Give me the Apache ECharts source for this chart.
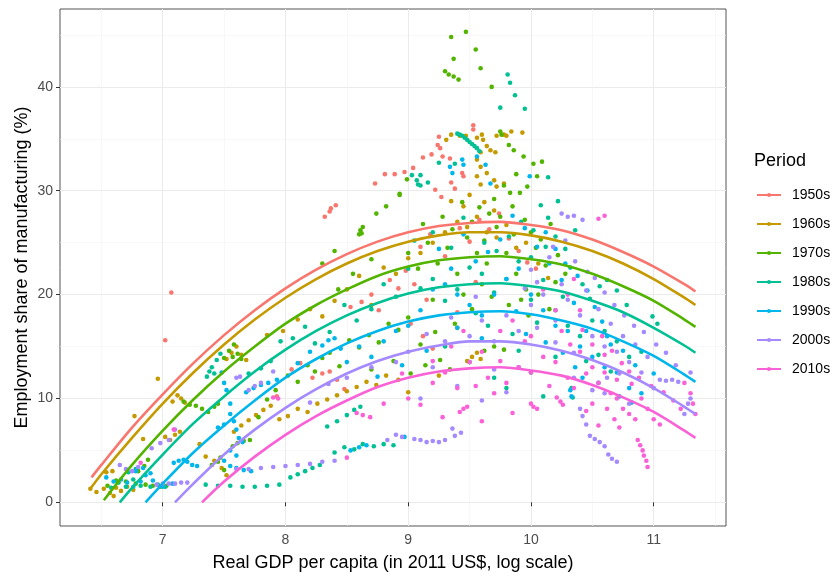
<!DOCTYPE html>
<html>
<head>
<meta charset="utf-8">
<title>Manufacturing employment share vs GDP per capita</title>
<script src="https://cdn.jsdelivr.net/npm/echarts@6/dist/echarts.min.js"></script>
<style>
  html, body { margin: 0; padding: 0; background: #fff; }
  #chart { width: 835px; height: 577px; }
</style>
</head>
<body>
<div id="chart"></div>
<script>
const periods = ['1950s', '1960s', '1970s', '1980s', '1990s', '2000s', '2010s'];
const colors = ['#F8766D', '#C49A00', '#53B400', '#00C094', '#00B6EB', '#A58AFF', '#FB61D7'];

const xTicks = [7, 8, 9, 10, 11];
const yTicks = [0, 10, 20, 30, 40];
const xMinor = [6.5, 7.5, 8.5, 9.5, 10.5, 11.5];
const yMinor = [5, 15, 25, 35, 45];

// observations: [log GDP per capita, manufacturing share %]
const pts1950 = [
  [7.02,15.6],[7.07,20.2],
  [7.93,10.2],[8.05,12.8],[8.12,13.4],[8.22,12.0],[8.30,12.4],[8.36,12.6],[8.42,11.8],[8.48,10.9],
  [8.32,27.5],[8.36,28.0],[8.37,28.3],[8.41,28.6],
  [8.53,18.8],[8.62,19.3],[8.70,20.0],[8.76,18.5],[8.85,21.4],[8.92,20.6],[8.98,22.3],[9.05,21.0],
  [8.73,30.7],[8.81,31.6],[8.89,31.6],[8.97,31.8],[9.04,32.2],[9.12,33.2],[9.19,33.5],[9.25,35.2],
  [9.24,34.4],[9.26,34.1],[9.28,33.3],[9.34,33.1],[9.44,31.7],[9.45,31.4],[9.53,36.3],[9.53,35.9],
  [9.27,29.4],[9.22,30.1],[9.35,30.8],[9.38,30.2],
  [9.10,24.6],[9.18,25.8],[9.30,23.7],[9.42,26.4],[9.50,25.1],[9.58,27.2],[9.66,26.3],[9.74,27.8],
  [9.82,25.4],[9.90,24.2],[9.97,23.1],[10.04,22.5],
  [9.02,17.2],[9.12,16.0],[9.20,14.8],[9.15,19.5],[9.40,18.3],[9.55,21.2]
];
const pts1960 = [
  [6.41,1.3],[6.46,1.0],[6.52,1.3],[6.57,0.9],[6.62,1.4],[6.66,1.1],[6.71,1.5],[6.76,1.2],[6.60,0.6],
  [6.54,2.9],[6.59,3.0],[6.77,8.3],[6.84,6.1],[6.96,11.9],
  [7.02,6.3],[7.06,6.0],[7.10,6.5],[7.14,6.8],[7.08,9.7],[7.12,10.3],[7.15,10.0],[7.18,9.6],
  [7.30,5.6],[7.35,4.4],[7.42,4.0],[7.48,3.3],[7.52,2.6],
  [7.52,13.8],[7.56,14.4],[7.60,15.0],[7.64,14.2],[7.68,13.7],
  [7.58,6.8],[7.64,7.4],[7.70,7.9],[7.76,8.4],[7.82,8.9],[7.88,9.3],
  [7.95,8.0],[8.02,8.3],[8.10,9.0],[8.18,8.7],[8.26,9.5],[8.34,9.9],[8.42,10.3],[8.50,10.7],
  [8.58,11.1],[8.66,11.6],[8.74,11.3],[8.82,12.2],[8.92,11.8],[9.00,10.6],
  [7.85,16.1],[7.98,16.5],[8.10,17.6],[8.20,18.6],[8.30,17.9],[8.40,19.4],[8.50,20.5],[8.60,21.8],
  [8.70,19.0],[8.80,22.6],[8.90,22.0],[9.00,23.5],[9.10,24.0],[9.20,25.0],[9.30,26.0],[9.40,27.0],
  [9.48,26.5],[9.56,27.5],[9.64,26.0],[9.72,25.5],[9.80,26.7],[9.88,24.5],[9.96,25.0],[10.06,23.0],[10.14,21.6],
  [9.35,29.0],[9.45,28.5],[9.50,29.6],[9.62,28.9],[9.70,28.1],
  [9.31,34.9],[9.35,35.4],[9.42,35.3],[9.47,35.3],[9.56,35.1],[9.60,35.4],[9.61,34.9],[9.64,34.3],
  [9.59,33.7],[9.67,33.9],[9.71,33.7],[9.72,35.3],[9.78,35.4],[9.80,35.3],[9.84,35.7],[9.93,35.6],
  [9.56,33.0],[9.59,32.3],[9.64,31.7],[9.70,31.0],[9.72,30.4],[9.78,30.7],[9.56,31.4],[9.59,30.6],
  [9.48,13.6],[9.52,14.0],[9.56,14.4],[9.59,13.8],[9.25,12.2],[9.40,16.8]
];
const pts1970 = [
  [6.55,1.6],[6.62,2.1],[6.70,2.0],[6.78,1.8],[6.86,1.7],[6.92,1.6],[6.98,1.5],[7.03,1.6],[6.85,3.5],[6.88,4.1],[6.80,3.0],
  [7.17,9.7],[7.22,9.4],[7.27,9.3],[7.32,9.0],[7.37,8.7],[7.42,9.2],[7.45,9.5],
  [7.50,13.9],[7.54,14.6],[7.58,15.2],[7.61,14.3],[7.64,13.8],[7.57,14.0],
  [7.57,5.4],[7.61,5.7],[7.66,5.9],[7.71,6.0],[7.40,3.6],[7.45,3.9],[7.50,3.1],[7.47,4.3],
  [7.78,8.2],[7.85,9.9],[7.92,10.8],
  [8.02,12.2],[8.10,11.6],[8.18,13.2],[8.24,12.6],[8.30,13.9],[8.36,14.4],[8.44,13.1],[8.52,15.6],
  [8.60,14.9],[8.68,16.1],[8.76,15.4],[8.84,17.2],[8.92,16.6],[9.00,17.8],[8.70,12.8],[8.88,13.6],
  [9.02,12.4],[9.14,13.2],[9.26,13.7],[9.34,12.8],[9.62,14.6],[9.70,15.0],[9.78,14.7],
  [8.43,20.5],[8.62,25.9],[8.74,27.8],[8.82,28.5],[8.93,29.6],[8.99,31.1],[8.61,26.2],[8.60,25.8],
  [8.63,26.5],[8.30,23.0],[8.40,24.2],[8.55,22.0],[8.70,23.4],
  [9.35,44.8],[9.47,45.3],[9.37,42.7],[9.55,43.6],[9.30,41.5],[9.33,41.2],[9.37,41.0],[9.41,40.7],[9.59,41.8],[9.68,40.0],
  [9.75,35.7],[9.76,35.4],[9.82,34.4],[9.86,33.9],[9.94,33.3],[10.02,32.6],[10.09,32.8],[10.05,31.4],
  [9.91,29.8],[9.83,29.8],[9.97,30.4],[8.93,29.7],
  [9.00,24.0],[9.08,22.5],[9.16,25.0],[9.24,23.0],[9.32,24.5],[9.40,22.0],[9.48,25.5],[9.56,24.0],
  [9.64,23.0],[9.72,26.5],[9.80,24.0],[9.88,22.0],[9.96,20.5],[10.04,24.5],[10.12,22.8],[10.20,21.2],
  [9.85,28.5],[9.75,27.5],[9.92,19.5],[9.82,19.0],[9.98,18.0],[10.06,20.0],[10.15,18.6],[9.60,21.0],
  [9.45,20.0],[9.20,19.5],
  [9.52,27.0],[9.58,28.4],[9.66,27.8],[9.70,29.2],[9.78,30.5],[9.88,31.6],[9.95,27.2],[10.00,26.0],
  [10.08,25.3],[10.16,26.8],[9.62,25.2],[9.36,26.3],[9.28,27.5],[9.12,26.8],[9.44,28.9],[9.86,25.8],
  [10.22,23.8],[10.28,22.0],[9.68,19.8],[9.52,18.6],[9.38,17.2],[9.22,16.4],[9.10,15.2]
];
const pts1980 = [
  [6.58,1.4],[6.64,1.9],[6.70,1.5],[6.76,2.2],[6.82,1.6],[6.90,1.5],[6.96,1.7],[7.02,1.5],[6.72,2.9],[6.78,3.2],
  [7.35,1.7],[7.45,1.6],[7.55,1.6],[7.65,1.5],[7.75,1.5],[7.85,1.6],[7.95,1.7],
  [8.04,2.4],[8.10,2.7],[8.16,3.0],[8.22,3.3],[8.28,3.6],[8.40,4.8],[8.48,5.3],[8.56,5.1],[8.63,5.6],
  [8.72,5.4],[8.80,5.6],[8.88,5.5],
  [8.34,7.3],[8.42,7.8],[8.50,8.4],[8.56,8.9],[8.61,9.2],
  [7.36,12.1],[7.38,12.6],[7.40,13.0],[7.42,12.4],[7.44,13.7],[7.47,14.3],
  [7.70,12.4],[7.80,12.9],[7.88,13.6],[7.96,15.5],[8.06,15.8],[8.16,16.9],[8.24,15.3],[8.36,16.4],
  [8.48,19.0],[8.58,17.5],[8.70,18.6],[8.80,21.0],[8.90,19.8],[9.00,22.5],[9.10,20.6],[9.20,21.5],
  [9.30,19.4],[9.40,20.5],[9.50,22.6],[9.60,22.0],[9.70,20.2],[9.80,21.5],[9.90,23.2],[10.00,19.5],
  [10.10,21.4],[10.20,18.5],[10.30,17.0],[10.40,16.0],[10.50,17.5],[10.60,16.5],[10.70,15.5],[10.80,14.0],
  [10.90,14.5],[10.99,17.9],[11.03,17.2],[10.62,21.4],[10.70,20.4],[10.78,19.0],
  [10.20,25.6],[10.28,24.4],[10.36,26.2],[10.14,27.4],[10.08,28.6],[10.22,29.0],
  [9.40,35.5],[9.42,35.4],[9.44,35.3],[9.46,35.1],[9.48,34.9],[9.50,34.7],[9.52,34.5],[9.54,34.3],[9.56,34.1],[9.58,33.8],
  [9.81,41.2],[9.83,40.4],[9.87,39.2],[9.75,38.0],[9.95,37.9],[10.14,31.3],
  [9.03,31.5],[9.10,31.5],[9.07,31.0],[9.10,30.5],[9.16,30.8],[9.25,32.7],[9.38,32.6],[9.08,30.6],
  [9.30,15.0],[9.50,13.5],[9.70,12.0],[9.80,11.0],[10.00,12.5],[10.20,14.0],[10.33,11.0],[10.34,10.1],
  [9.55,18.2],[9.65,17.0],[9.85,16.2],[10.05,17.3],
  [9.62,25.0],[9.72,24.2],[9.82,25.6],[9.92,27.0],[10.02,26.2],[10.12,24.6],[10.32,22.6],[10.42,21.0],
  [10.48,19.6],[10.56,20.8],[10.26,19.8],[10.00,23.6],[9.35,24.5],[9.45,27.4],[9.20,26.0],[9.05,25.2],
  [10.45,13.6],[10.55,14.2],[10.65,12.6],[10.10,10.2],[9.90,14.6]
];
const pts1990 = [
  [6.54,2.4],[6.60,2.0],[6.66,2.2],[6.71,1.9],[6.76,1.5],[6.82,2.0],[6.86,2.6],[6.92,2.1],[7.00,1.5],
  [7.08,1.8],[6.78,3.0],[6.84,3.3],[6.90,2.8],
  [7.09,3.8],[7.13,4.0],[7.17,4.1],[7.20,3.9],[7.24,3.6],[7.28,3.5],
  [7.48,12.5],[7.50,11.5],[7.52,10.8],[7.55,9.5],[7.55,8.5],[7.58,7.8],[7.50,7.5],[7.60,7.0],[7.62,6.2],
  [7.65,5.8],[7.55,5.0],[7.60,4.5],[7.50,4.0],[7.55,3.5],[7.60,3.3],[7.45,7.2],[7.66,3.1],[7.72,3.0],
  [7.68,10.6],[7.74,11.0],[7.80,11.3],[7.86,11.5],[7.93,11.8],
  [8.10,13.4],[8.20,14.5],[8.30,15.1],[8.35,15.6],[8.40,15.8],[8.45,14.8],[8.50,13.5],[8.60,15.0],
  [8.70,14.0],[8.80,15.5],[8.90,16.5],[9.00,17.0],[9.10,18.5],[9.20,20.5],[9.30,21.0],[9.35,22.5],
  [9.40,20.0],[9.50,19.0],[9.60,18.0],[9.70,20.0],[9.80,21.5],[9.90,22.5],[10.00,20.0],[10.10,18.5],
  [10.20,17.0],[10.30,16.5],[10.40,15.0],[10.50,14.0],[10.60,13.0],[10.70,12.5],[10.80,11.0],[10.90,10.5],
  [10.55,11.5],[10.45,16.5],[10.35,19.2],[10.25,21.4],[10.15,23.0],[10.05,24.6],[9.95,26.4],[9.85,27.6],
  [9.75,25.3],[9.65,24.1],[9.55,23.2],[9.45,25.8],[9.25,24.4],
  [9.34,32.3],[9.36,31.7],[9.44,33.0],[9.45,32.5],[9.56,33.3],[9.63,32.5],[9.67,30.7],[9.99,31.4],
  [8.53,5.0],[8.60,5.3],[8.66,5.5],[8.97,6.3],
  [10.32,10.8],[10.33,10.2],[10.65,15.2],[10.75,14.6],[10.85,13.2],[11.00,12.4],
  [10.12,26.0],[10.20,24.4],[10.28,23.0],[10.38,21.8],[10.46,20.4],[10.52,18.8],[10.58,17.4],[10.62,16.0],
  [10.36,13.0],[10.26,14.4],[10.12,15.4],[9.96,16.2],[9.88,18.4],[9.60,15.8],[9.40,16.8],[9.15,14.6],
  [8.95,13.2],[8.75,12.1],[10.72,10.2],[10.82,9.6],[10.42,12.0]
];
const pts2000 = [
  [6.65,3.6],[6.70,3.2],[6.75,3.0],[6.80,3.4],[6.91,5.2],[6.98,5.7],[7.05,6.0],[7.10,7.0],
  [6.95,1.7],[7.00,1.8],[7.05,1.8],[7.10,1.8],[7.15,1.9],[7.20,1.9],
  [7.60,3.2],[7.70,3.2],[7.80,3.3],[7.90,3.4],[8.00,3.5],[8.10,3.6],[8.20,3.7],[8.30,3.9],[8.40,4.0],
  [8.83,6.0],[8.90,6.5],[8.95,6.3],[9.05,6.1],[9.10,6.0],[9.15,5.8],[9.20,5.9],[9.25,5.8],[9.30,6.0],
  [9.38,6.4],[9.43,6.7],[9.36,7.1],
  [7.63,12.1],[7.70,10.8],[7.75,11.2],[7.80,11.5],[7.60,12.0],[7.90,12.6],
  [8.20,9.6],[8.35,11.4],[8.50,12.0],[8.70,13.0],[8.90,13.5],[9.00,14.5],[9.20,13.0],[9.30,15.5],
  [9.50,16.0],[9.60,17.5],[9.70,15.5],[9.80,18.0],[9.90,16.5],[10.00,19.0],[10.10,20.0],[10.20,17.5],
  [10.30,19.5],[10.40,18.0],[10.50,16.0],[10.60,15.0],[10.70,14.5],[10.80,13.5],[10.90,12.5],[11.00,11.0],
  [11.30,10.0],[11.25,8.5],[10.80,9.5],[10.60,10.5],[9.10,10.0],[9.40,11.2],[9.60,9.8],[9.80,10.6],
  [10.00,22.4],[10.15,23.6],[10.25,21.0],[10.45,20.4],[10.35,14.4],[10.55,18.6],[10.65,17.2],[10.75,16.0],
  [10.85,15.2],[10.95,14.0],[9.90,13.0],[9.70,12.8],
  [10.25,27.8],[10.30,27.5],[10.35,27.6],[10.42,27.2],
  [10.40,9.0],[10.42,8.3],[10.45,7.5],[10.48,6.4],[10.52,6.1],[10.56,5.8],[10.60,5.4],[10.63,4.6],
  [10.66,4.2],[10.70,3.9],
  [11.05,11.8],[11.10,11.7],[11.15,11.8],[11.20,11.6],[11.28,9.5],[11.30,12.5],
  [10.05,21.2],[10.18,24.6],[10.28,25.2],[10.36,23.2],[10.46,22.2],[10.52,21.6],[10.60,20.2],[10.68,19.0],
  [10.76,18.0],[10.84,17.0],[10.92,16.4],[11.02,15.2],[11.10,14.4],[11.18,13.2],[10.72,12.4],[10.62,12.0],
  [10.50,10.8],[10.35,12.0],[10.20,15.4],[10.05,16.8],[9.95,20.6],[9.55,19.8],[9.35,17.8],[9.15,16.2]
];
const pts2010 = [
  [7.09,7.0],[6.82,3.8],[7.90,10.1],[7.94,10.0],
  [8.50,4.3],[8.58,8.6],[8.63,8.4],[8.69,8.2],
  [8.80,9.5],[9.00,10.0],[9.20,11.5],[9.30,12.5],[9.40,11.0],[9.50,13.5],[9.60,14.5],[9.65,12.0],
  [9.70,10.5],[9.80,11.5],[9.90,13.0],[10.00,12.5],[10.10,14.0],[10.20,13.5],[10.30,12.0],[10.40,14.5],
  [10.50,13.0],[10.55,11.5],[10.60,12.5],[10.65,10.5],[10.70,10.0],[10.75,9.0],[10.80,8.5],[10.85,8.0],
  [10.50,9.5],[10.45,8.8],[10.35,11.0],[10.25,16.5],[10.20,18.5],[10.30,20.0],[10.35,21.5],[10.40,18.5],
  [10.10,20.5],[9.95,15.5],[10.00,16.0],[9.85,17.5],[9.75,16.5],[9.45,16.5],[9.35,15.0],
  [9.42,8.7],[9.45,9.0],[9.48,9.2],[10.00,9.5],[10.02,9.2],[10.05,9.0],[10.21,10.1],[10.24,9.7],[10.26,9.4],
  [10.87,6.0],[10.89,5.5],[10.91,5.0],[10.92,4.5],[10.94,4.0],[10.95,3.4],
  [11.25,11.5],[11.30,10.5],[11.32,9.5],[11.34,8.5],
  [10.90,10.0],[10.95,9.0],[11.00,8.0],[11.05,7.5],
  [10.55,27.3],[10.60,27.6],
  [10.45,12.4],[10.60,14.2],[10.70,11.8],[10.80,12.6],[9.55,11.2],[9.10,9.4],[9.85,8.6],[9.60,7.8],
  [10.32,15.2],[10.42,16.6],[10.50,15.2],[10.58,16.0],[10.66,14.6],[10.74,13.4],[10.82,11.4],[10.88,12.0],
  [10.98,11.2],[11.08,10.6],[11.16,9.8],[11.22,9.0],[10.62,9.0],[10.68,8.0],[10.72,7.2],[10.55,7.4],
  [10.15,11.2],[9.75,13.6],[9.20,13.6],[8.95,12.4],[9.28,8.2]
];

// fitted quadratic curves
const fit1950 = [[6.42,2.4],[6.5,3.6],[6.75,7.2],[7,10.4],[7.25,13.4],[7.5,16.1],[7.75,18.5],[8,20.6],[8.25,22.4],[8.5,23.9],[8.75,25.1],[9,26.0],[9.25,26.6],[9.5,26.9],[9.75,27.0],[10,26.7],[10.25,26.2],[10.5,25.3],[10.75,24.1],[11,22.7],[11.25,21.0],[11.34,20.3]];
const fit1960 = [[6.41,1.3],[6.5,2.7],[6.75,6.2],[7,9.5],[7.25,12.5],[7.5,15.2],[7.75,17.6],[8,19.7],[8.25,21.5],[8.5,23.0],[8.75,24.2],[9,25.1],[9.25,25.7],[9.5,26.0],[9.75,26.0],[10,25.7],[10.25,25.1],[10.5,24.2],[10.75,23.0],[11,21.5],[11.25,19.7],[11.34,19.0]];
const fit1970 = [[6.52,0.2],[6.75,3.6],[7,6.9],[7.25,9.9],[7.5,12.6],[7.75,15.0],[8,17.2],[8.25,19.0],[8.5,20.5],[8.75,21.8],[9,22.7],[9.25,23.3],[9.5,23.6],[9.75,23.7],[10,23.4],[10.25,22.9],[10.5,22.0],[10.75,20.8],[11,19.4],[11.25,17.6],[11.34,16.9]];
const fit1980 = [[6.65,0],[6.75,1.4],[7,4.6],[7.25,7.6],[7.5,10.2],[7.75,12.6],[8,14.7],[8.25,16.5],[8.5,18.0],[8.75,19.2],[9,20.1],[9.25,20.7],[9.5,21.0],[9.75,21.1],[10,20.8],[10.25,20.3],[10.5,19.4],[10.75,18.3],[11,16.8],[11.25,15.1],[11.34,14.4]];
const fit1990 = [[6.86,0],[7,1.8],[7.25,4.8],[7.5,7.4],[7.75,9.8],[8,12.0],[8.25,13.8],[8.5,15.3],[8.75,16.5],[9,17.4],[9.25,18.0],[9.5,18.3],[9.75,18.4],[10,18.1],[10.25,17.5],[10.5,16.7],[10.75,15.5],[11,14.1],[11.25,12.3],[11.34,11.6]];
const fit2000 = [[7.1,0],[7.25,1.8],[7.5,4.6],[7.75,7.0],[8,9.1],[8.25,10.9],[8.5,12.4],[8.75,13.6],[9,14.5],[9.25,15.1],[9.5,15.5],[9.75,15.5],[10,15.2],[10.25,14.6],[10.5,13.7],[10.75,12.5],[11,11.0],[11.25,9.2],[11.34,8.5]];
const fit2010 = [[7.32,0],[7.5,2.0],[7.75,4.4],[8,6.5],[8.25,8.3],[8.5,9.8],[8.75,11.1],[9,12.0],[9.25,12.6],[9.5,12.9],[9.75,13.0],[10,12.7],[10.25,12.2],[10.5,11.3],[10.75,10.1],[11,8.7],[11.25,6.9],[11.34,6.2]];

const points = [pts1950, pts1960, pts1970, pts1980, pts1990, pts2000, pts2010];
const fits = [fit1950, fit1960, fit1970, fit1980, fit1990, fit2000, fit2010];

const font = '"Liberation Sans", Arial, sans-serif';
const chart = echarts.init(document.getElementById('chart'), null, { renderer: 'canvas' });

const series = [];
periods.forEach((p, i) => {
  series.push({
    name: p,
    type: 'line',
    data: fits[i],
    smooth: 0.3,
    symbol: 'circle',
    symbolSize: 4,
    showSymbol: false,
    z: 3,
    lineStyle: { color: colors[i], width: 2.6 },
    itemStyle: { color: colors[i] },
    silent: true
  });
});
periods.forEach((p, i) => {
  series.push({
    name: p,
    type: 'scatter',
    data: points[i],
    symbolSize: 4.6,
    z: 2,
    itemStyle: { color: colors[i], opacity: 1 },
    silent: true
  });
});

const option = {
  animation: false,
  color: colors,
  textStyle: { fontFamily: font },
  title: {
    text: 'Period',
    left: 754,
    top: 152,
    padding: 0,
    textStyle: { fontSize: 18, fontWeight: 'normal', color: '#000', fontFamily: font }
  },
  legend: {
    data: periods,
    orient: 'vertical',
    left: 756,
    top: 188,
    padding: 0,
    itemWidth: 24,
    itemHeight: 5,
    itemGap: 15,
    textStyle: { fontSize: 14, lineHeight: 14, color: '#000', fontFamily: font, padding: [0, 0, 0, 6] }
  },
  grid: {
    left: 60, right: 109, top: 9, bottom: 51,
    show: true,
    borderColor: '#555',
    borderWidth: 1,
    backgroundColor: '#fff'
  },
  xAxis: [{
    type: 'value',
    min: 6.163,
    max: 11.589,
    name: 'Real GDP per capita (in 2011 US$, log scale)',
    nameLocation: 'middle',
    nameGap: 28,
    nameMoveOverlap: false,
    nameTextStyle: { fontSize: 18, color: '#000', fontFamily: font },
    axisLine: { show: false },
    axisTick: { show: true, length: 4, customValues: xTicks, lineStyle: { color: '#333' } },
    axisLabel: { customValues: xTicks, fontSize: 14, color: '#4D4D4D', margin: 7, fontFamily: font },
    splitLine: { show: true, lineStyle: { color: '#EBEBEB', width: 1 } }
  }, {
    type: 'value',
    min: 6.163,
    max: 11.589,
    position: 'bottom',
    axisLine: { show: false },
    axisTick: { show: false, customValues: xMinor },
    axisLabel: { show: false },
    splitLine: { show: true, lineStyle: { color: '#F4F4F4', width: 0.6 } }
  }],
  yAxis: [{
    type: 'value',
    min: -2.28,
    max: 47.5,
    name: 'Employment share of manufacturing (%)',
    nameLocation: 'middle',
    nameGap: 29,
    nameMoveOverlap: false,
    nameTextStyle: { fontSize: 18, color: '#000', fontFamily: font },
    axisLine: { show: false },
    axisTick: { show: true, length: 4, customValues: yTicks, lineStyle: { color: '#333' } },
    axisLabel: { customValues: yTicks, fontSize: 14, color: '#4D4D4D', margin: 7, fontFamily: font },
    splitLine: { show: true, lineStyle: { color: '#EBEBEB', width: 1 } }
  }, {
    type: 'value',
    min: -2.28,
    max: 47.5,
    position: 'left',
    axisLine: { show: false },
    axisTick: { show: false, customValues: yMinor },
    axisLabel: { show: false },
    splitLine: { show: true, lineStyle: { color: '#F4F4F4', width: 0.6 } }
  }],
  series: series
};

chart.setOption(option);
</script>
</body>
</html>
